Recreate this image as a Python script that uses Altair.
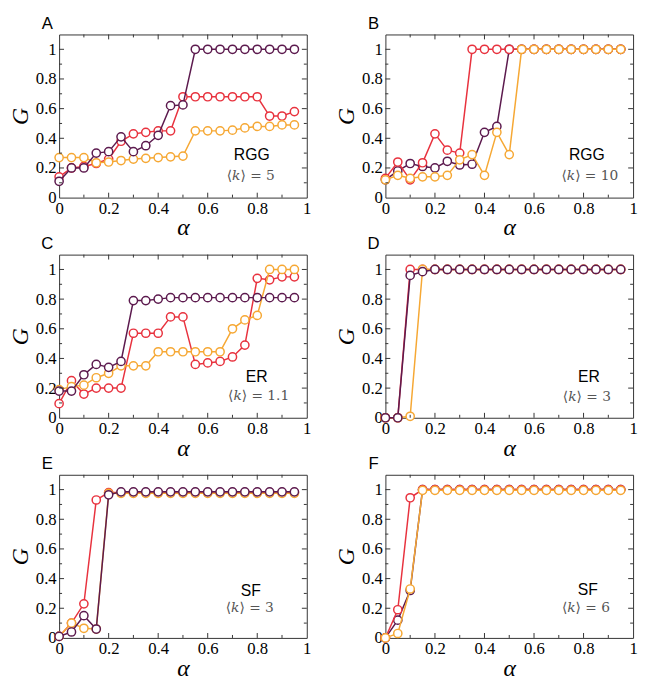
import altair as alt
import pandas as pd

# ---------------- data ----------------
alpha = [0.0, 0.05, 0.1, 0.15, 0.2, 0.25, 0.3, 0.35, 0.4, 0.45,
         0.5, 0.55, 0.6, 0.65, 0.7, 0.75, 0.8, 0.85, 0.9, 0.95]

A_purple = [0.11, 0.20, 0.20, 0.30, 0.31, 0.41, 0.31, 0.35, 0.42, 0.62,
            0.625, 1.0, 1.0, 1.0, 1.0, 1.0, 1.0, 1.0, 1.0, 1.0]
A_red = [0.14, 0.20, 0.21, 0.23, 0.26, 0.38, 0.43, 0.44, 0.45, 0.45,
         0.68, 0.68, 0.68, 0.68, 0.68, 0.68, 0.68, 0.55, 0.55, 0.58]
A_orange = [0.27, 0.27, 0.27, 0.235, 0.24, 0.25, 0.26, 0.265, 0.27, 0.275,
            0.28, 0.45, 0.45, 0.45, 0.455, 0.47, 0.48, 0.48, 0.49, 0.49]

B_purple = [0.12, 0.18, 0.23, 0.21, 0.20, 0.245, 0.22, 0.225, 0.44, 0.48,
            1.0, 1.0, 1.0, 1.0, 1.0, 1.0, 1.0, 1.0, 1.0, 1.0]
B_red = [0.13, 0.24, 0.12, 0.235, 0.43, 0.32, 0.30, 1.0, 1.0, 1.0,
         1.0, 1.0, 1.0, 1.0, 1.0, 1.0, 1.0, 1.0, 1.0, 1.0]
B_orange = [0.12, 0.15, 0.13, 0.14, 0.14, 0.15, 0.255, 0.29, 0.15, 0.44,
            0.29, 1.0, 1.0, 1.0, 1.0, 1.0, 1.0, 1.0, 1.0, 1.0]

C_purple = [0.18, 0.18, 0.29, 0.36, 0.34, 0.38, 0.79, 0.79, 0.80, 0.81,
            0.81, 0.81, 0.81, 0.81, 0.81, 0.81, 0.81, 0.81, 0.81, 0.81]
C_red = [0.095, 0.25, 0.16, 0.20, 0.20, 0.20, 0.57, 0.57, 0.57, 0.68,
         0.68, 0.36, 0.37, 0.38, 0.41, 0.49, 0.94, 0.93, 0.95, 0.95]
C_orange = [0.19, 0.21, 0.22, 0.27, 0.30, 0.35, 0.35, 0.35, 0.445, 0.445,
            0.445, 0.445, 0.445, 0.445, 0.60, 0.66, 0.69, 1.0, 1.0, 1.0]

D_purple = [0.0, 0.0, 0.96, 0.985, 1.0, 1.0, 1.0, 1.0, 1.0, 1.0,
            1.0, 1.0, 1.0, 1.0, 1.0, 1.0, 1.0, 1.0, 1.0, 1.0]
D_red = [0.0, 0.0, 1.0, 1.0, 1.0, 1.0, 1.0, 1.0, 1.0, 1.0,
         1.0, 1.0, 1.0, 1.0, 1.0, 1.0, 1.0, 1.0, 1.0, 1.0]
D_orange = [0.0, 0.0, 0.01, 1.0, 1.0, 1.0, 1.0, 1.0, 1.0, 1.0,
            1.0, 1.0, 1.0, 1.0, 1.0, 1.0, 1.0, 1.0, 1.0, 1.0]

E_purple = [0.01, 0.04, 0.15, 0.06, 0.965, 0.985, 0.985, 0.985, 0.985, 0.985,
            0.985, 0.985, 0.985, 0.985, 0.985, 0.985, 0.985, 0.985, 0.985, 0.985]
E_red = [0.01, 0.10, 0.23, 0.93, 0.98, 0.98, 0.98, 0.98, 0.98, 0.98,
         0.98, 0.98, 0.98, 0.98, 0.98, 0.98, 0.98, 0.98, 0.98, 0.98]
E_orange = [0.01, 0.10, 0.065, 0.06, 0.975, 0.975, 0.975, 0.975, 0.975, 0.975,
            0.975, 0.975, 0.975, 0.975, 0.975, 0.975, 0.975, 0.975, 0.975, 0.975]

F_purple = [0.0, 0.12, 0.32, 1.0, 1.0, 1.0, 1.0, 1.0, 1.0, 1.0,
            1.0, 1.0, 1.0, 1.0, 1.0, 1.0, 1.0, 1.0, 1.0, 1.0]
F_red = [0.0, 0.19, 0.945, 1.0, 1.0, 1.0, 1.0, 1.0, 1.0, 1.0,
         1.0, 1.0, 1.0, 1.0, 1.0, 1.0, 1.0, 1.0, 1.0, 1.0]
F_orange = [0.0, 0.03, 0.33, 0.995, 0.995, 0.995, 0.995, 0.995, 0.995, 0.995,
            0.995, 0.995, 0.995, 0.995, 0.995, 0.995, 0.995, 0.995, 0.995, 0.995]

panel_letters = ["A", "B", "C", "D", "E", "F"]
network_labels = ["RGG", "RGG", "ER", "ER", "SF", "SF"]
degree_labels = ["⟨𝑘⟩ = 5", "⟨𝑘⟩ = 10", "⟨𝑘⟩ = 1.1", "⟨𝑘⟩ = 3", "⟨𝑘⟩ = 3", "⟨𝑘⟩ = 6"]

tick_labels = [0.0, 0.2, 0.4, 0.6, 0.8, 1.0]
x_major_ticks = [0.2, 0.4, 0.6, 0.8]
x_minor_ticks = [0.1, 0.3, 0.5, 0.7, 0.9]
y_major_ticks = [0.2, 0.4, 0.6, 0.8, 1.0]
y_minor_ticks = [0.1, 0.3, 0.5, 0.7, 0.9]

series_data = [
    {"purple": A_purple, "red": A_red, "orange": A_orange},
    {"purple": B_purple, "red": B_red, "orange": B_orange},
    {"purple": C_purple, "red": C_red, "orange": C_orange},
    {"purple": D_purple, "red": D_red, "orange": D_orange},
    {"purple": E_purple, "red": E_red, "orange": E_orange},
    {"purple": F_purple, "red": F_red, "orange": F_orange},
]

# ---------------- styles / layout ----------------
COLORS = {"purple": "#5c1a4e", "red": "#e8323e", "orange": "#f6a834"}
DRAW_ORDER = [
    ["red", "orange", "purple"],
    ["purple", "red", "orange"],
    ["red", "orange", "purple"],
    ["red", "orange", "purple"],
    ["red", "orange", "purple"],
    ["purple", "red", "orange"],
]
W, H = 252, 166
REF_H = 176.0
NET_POS = [(196, 130), (205, 130), (201, 132), (207, 132), (195, 126), (206, 124)]
DEG_POS = [(195, 153), (208, 153), (203, 153), (205, 154), (194, 144), (204, 144)]
FRAME = "#333333"
MAJ, MIN = 5, 3
SERIF = "Liberation Serif, Times New Roman, Times, serif"

xscale = alt.Scale(domain=[0, 1], nice=False, zero=False)
yscale = alt.Scale(domain=[0, 1.1], nice=False, zero=False)

X = alt.X("alpha:Q", scale=xscale, title="α",
          axis=alt.Axis(values=tick_labels, format="~g", titlePadding=0))
Y = alt.Y("G:Q", scale=yscale, title="G",
          axis=alt.Axis(values=tick_labels, format="~g", titlePadding=3))


def tick_layers():
    out = []
    for vals, ln in ((x_major_ticks, MAJ), (x_minor_ticks, MIN)):
        d = alt.Chart(pd.DataFrame({"alpha": vals}))
        out.append(d.mark_rule(color=FRAME, strokeWidth=1).encode(
            x=X, y=alt.value(H), y2=alt.value(H - ln)))
        out.append(d.mark_rule(color=FRAME, strokeWidth=1).encode(
            x=X, y=alt.value(0), y2=alt.value(ln)))
    for vals, ln in ((y_major_ticks, MAJ), (y_minor_ticks, MIN)):
        d = alt.Chart(pd.DataFrame({"G": vals}))
        out.append(d.mark_rule(color=FRAME, strokeWidth=1).encode(
            y=Y, x=alt.value(0), x2=alt.value(ln)))
        out.append(d.mark_rule(color=FRAME, strokeWidth=1).encode(
            y=Y, x=alt.value(W), x2=alt.value(W - ln)))
    return out


def make_panel(i):
    layers = []
    for name in DRAW_ORDER[i]:
        base = alt.Chart(pd.DataFrame({"alpha": alpha, "G": series_data[i][name]}))
        layers.append(base.mark_line(color=COLORS[name], strokeWidth=1.5).encode(x=X, y=Y))
        layers.append(base.mark_point(shape="circle", filled=False, fill="white",
                                      fillOpacity=1, color=COLORS[name], opacity=1,
                                      size=70, strokeWidth=1.5).encode(x=X, y=Y))
    layers += tick_layers()
    letter = alt.Chart(pd.DataFrame({"t": [panel_letters[i]]})).mark_text(
        font="Liberation Sans", fontSize=17, align="center", baseline="top",
        color="black").encode(text="t:N", x=alt.value(-12), y=alt.value(-19))
    nx, ny = NET_POS[i]
    net = alt.Chart(pd.DataFrame({"t": [network_labels[i]]})).mark_text(
        font="Liberation Sans", fontSize=16, align="center", baseline="middle",
        color="black").encode(text="t:N", x=alt.value(nx), y=alt.value(ny * H / REF_H))
    kx, ky = DEG_POS[i]
    deg = alt.Chart(pd.DataFrame({"t": [degree_labels[i]]})).mark_text(
        font="DejaVu Serif", fontSize=14, align="center", baseline="middle",
        color="#555555").encode(text="t:N", x=alt.value(kx), y=alt.value(ky * H / REF_H))
    layers += [letter, net, deg]
    return alt.layer(*layers).properties(width=W, height=H)


chart = alt.concat(*[make_panel(i) for i in range(6)], columns=2,
                   spacing={"row": -7, "column": 23}).properties(
    padding=0
).configure_view(
    stroke=FRAME, strokeWidth=1
).configure_axis(
    labelFont=SERIF, labelFontSize=17, labelColor="black",
    titleFont=SERIF, titleFontSize=24, titleFontStyle="italic",
    titleFontWeight="normal", titleColor="black",
    ticks=False, domain=False, grid=False, labelPadding=3,
    labelFlush=False, labelOverlap=False
)

chart.save("out.html", embed_options={"renderer": "svg", "actions": False})
